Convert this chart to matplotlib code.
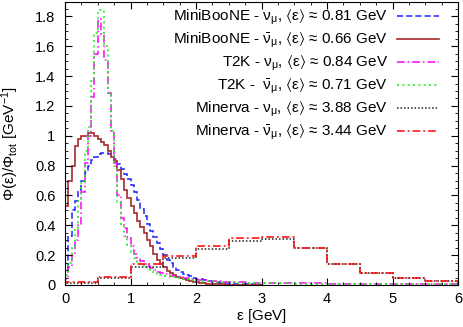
import numpy as np
import matplotlib
matplotlib.use("Agg")
import matplotlib.pyplot as plt
from matplotlib.ticker import MultipleLocator
from matplotlib.lines import Line2D

plt.rcParams['font.family'] = ['Liberation Sans', 'DejaVu Sans']
plt.rcParams['mathtext.fontset'] = 'custom'
plt.rcParams['mathtext.rm'] = 'Liberation Sans'
plt.rcParams['mathtext.it'] = 'Liberation Sans'
plt.rcParams['mathtext.sf'] = 'Liberation Sans'
plt.rcParams['mathtext.bf'] = 'Liberation Sans:bold'
plt.rcParams['mathtext.fallback'] = 'stixsans'

# ---------------- data ----------------
# MiniBooNE: 0.05 GeV bins from 0 to 3 GeV
mb_edges = np.round(np.arange(0, 3.0001, 0.05), 3)
mb_nu = [0.10, 0.33, 0.50, 0.56, 0.64, 0.70, 0.76, 0.80, 0.835, 0.86,
         0.875, 0.885, 0.888, 0.88, 0.865, 0.845, 0.81, 0.78, 0.745, 0.71,
         0.67, 0.62, 0.57, 0.51, 0.46, 0.41, 0.365, 0.32, 0.28, 0.24,
         0.20, 0.17, 0.145, 0.12, 0.10, 0.088, 0.077, 0.067, 0.058, 0.05,
         0.043, 0.037, 0.032, 0.028, 0.024, 0.021, 0.018, 0.016, 0.014, 0.012,
         0.011, 0.009, 0.008, 0.007, 0.006, 0.005, 0.004, 0.004, 0.003, 0.003]
mb_nubar = [0.53, 0.70, 0.80, 0.93, 0.98, 1.00, 1.00, 1.02, 1.02, 1.00,
            0.98, 0.96, 0.94, 0.90, 0.86, 0.83, 0.77, 0.71, 0.64, 0.58,
            0.53, 0.48, 0.43, 0.39, 0.35, 0.30, 0.26, 0.21, 0.17, 0.14,
            0.12, 0.095, 0.08, 0.067, 0.055, 0.045, 0.04, 0.033, 0.027, 0.022,
            0.018, 0.015, 0.012, 0.010, 0.008, 0.007, 0.006, 0.005, 0.004, 0.003,
            0.003, 0.002, 0.002, 0.002, 0.001, 0.001, 0.001, 0.001, 0.001, 0.001]

# T2K: 0.05 GeV bins to 1.5, 0.1 GeV bins to 3, 0.5 GeV bins to 6
t2k_edges = np.round(np.concatenate([np.arange(0, 1.5, 0.05),
                                     np.arange(1.5, 3.0, 0.1),
                                     np.arange(3.0, 6.0001, 0.5)]), 3)
t2k_nu = [0.04, 0.12, 0.20, 0.30, 0.40, 0.62, 0.82, 1.00, 1.26, 1.55,
          1.78, 1.68, 1.51, 1.29, 1.03, 0.82, 0.60, 0.45, 0.38, 0.32,
          0.26, 0.21, 0.18, 0.16, 0.14, 0.125, 0.115, 0.10, 0.09, 0.08,
          0.072, 0.062, 0.054, 0.046, 0.040, 0.035, 0.031, 0.027, 0.024, 0.022,
          0.020, 0.018, 0.017, 0.016, 0.015,
          0.013, 0.011, 0.010, 0.009, 0.008, 0.007]
t2k_nubar = [0.07, 0.15, 0.25, 0.38, 0.56, 0.70, 0.90, 1.06, 1.37, 1.69,
             1.84, 1.84, 1.60, 1.29, 1.03, 0.80, 0.55, 0.40, 0.33, 0.27,
             0.22, 0.18, 0.155, 0.135, 0.12, 0.105, 0.095, 0.085, 0.077, 0.07,
             0.060, 0.052, 0.045, 0.040, 0.035, 0.030, 0.027, 0.024, 0.021, 0.019,
             0.017, 0.015, 0.014, 0.013, 0.012,
             0.011, 0.009, 0.008, 0.007, 0.006, 0.005]

# Minerva: 0.5 GeV bins from 0 to 6 GeV
mv_edges = np.round(np.arange(0, 6.0001, 0.5), 3)
mv_nu = [0.012, 0.05, 0.122, 0.178, 0.239, 0.295, 0.308, 0.245, 0.142, 0.078, 0.045, 0.028]
mv_nubar = [0.020, 0.055, 0.138, 0.197, 0.263, 0.317, 0.319, 0.245, 0.143, 0.078, 0.045, 0.029]

labels = [r"MiniBooNE - $\nu_\mu$, $\langle\varepsilon\rangle$ ≈ 0.81 GeV",
          r"MiniBooNE - $\bar{\nu}_\mu$, $\langle\varepsilon\rangle$ ≈ 0.66 GeV",
          r"T2K - $\nu_\mu$, $\langle\varepsilon\rangle$ ≈ 0.84 GeV",
          r"T2K -  $\bar{\nu}_\mu$, $\langle\varepsilon\rangle$ ≈ 0.71 GeV",
          r"Minerva - $\nu_\mu$, $\langle\varepsilon\rangle$ ≈ 3.88 GeV",
          r"Minerva - $\bar{\nu}_\mu$, $\langle\varepsilon\rangle$ ≈ 3.44 GeV"]

# ---------------- figure ----------------
W, H = 463, 327
fig = plt.figure(figsize=(W/100, H/100), dpi=100)
ax = fig.add_axes([65/W, 1-285/H, (458-65)/W, (285-1.5)/H])

styles = [
    dict(color='#1f1fff', linestyle=(0, (4, 2)), lw=1.1),
    dict(color='#a52a2a', linestyle='-', lw=1.2),
    dict(color='#ff00ff', linestyle=(0, (5, 2, 1, 2)), lw=1.1),
    dict(color='#22ee22', linestyle=(0, (1.2, 2)), lw=1.2),
    dict(color='#222222', linestyle=(0, (1, 1.3)), lw=1.1),
    dict(color='#ff0000', linestyle=(0, (5, 2, 1.2, 2)), lw=1.1),
]
data = [(mb_edges, mb_nu), (mb_edges, mb_nubar), (t2k_edges, t2k_nu),
        (t2k_edges, t2k_nubar), (mv_edges, mv_nu), (mv_edges, mv_nubar)]

row_y = [16, 39, 62, 85, 108, 131]
for (edges, vals), style, lab, ry in zip(data, styles, labels, row_y):
    ax.stairs(vals, edges, baseline=0, **style)
    fig.text(388/W, 1-(ry+4.5)/H, lab, ha='right', va='baseline', fontsize=11)
    fig.add_artist(Line2D([397/W, 439/W], [1-ry/H, 1-ry/H], **style))

ax.set_xlim(0, 6)
ax.set_ylim(0, 1.9)
ax.xaxis.set_major_locator(MultipleLocator(1))
ax.xaxis.set_minor_locator(MultipleLocator(0.25))
ax.yaxis.set_minor_locator(MultipleLocator(0.05))
ax.set_yticks([0, 0.2, 0.4, 0.6, 0.8, 1, 1.2, 1.4, 1.6, 1.8])
ax.set_yticklabels(['0', '0.2', '0.4', '0.6', '0.8', '1', '1.2', '1.4', '1.6', '1.8'])
ax.tick_params(which='both', direction='in', top=True, right=True, labelsize=10.5)
ax.tick_params(axis='y', pad=7)
ax.tick_params(axis='x', pad=5)
ax.tick_params(which='major', length=5, width=0.8)
ax.tick_params(which='minor', length=2.5, width=0.6)
for s in ax.spines.values():
    s.set_linewidth(0.8)

ax.set_xlabel(r"$\varepsilon$ [GeV]", fontsize=11, labelpad=1)
ax.set_ylabel(r"$\Phi(\varepsilon)/\Phi_{\rm tot}$ [GeV$^{-1}$]", fontsize=11, labelpad=10)

fig.savefig("out.png", dpi=100)
